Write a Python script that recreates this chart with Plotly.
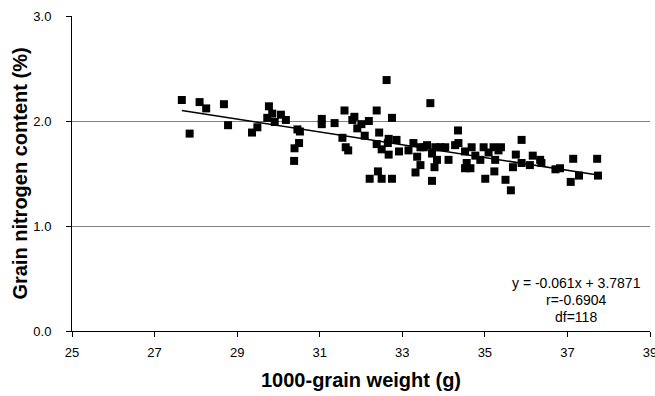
import plotly.graph_objects as go

# 1000-grain weight (g)
grain_weight = [
    27.66, 27.85, 28.09, 28.25, 28.68, 28.78,
    29.36, 29.49, 29.77, 29.73, 29.85, 29.91, 30.06, 30.18, 30.46, 30.39, 30.38, 30.50, 30.52,
    32.62, 31.60, 31.84, 31.79, 31.05, 31.05, 31.36, 32.38, 32.75, 32.19, 32.01, 31.91,
    31.55, 31.63, 31.69, 32.09, 32.44, 32.38, 32.50, 32.67, 32.67, 32.86, 32.92, 32.65,
    33.15, 33.27, 33.32, 33.36, 32.21, 32.41, 32.50, 32.75,
    33.44, 33.52, 33.60, 33.68, 33.72, 33.80, 33.84, 33.78, 33.72, 34.04, 34.12, 34.35,
    34.36, 34.52, 34.56, 34.52, 34.65, 34.68, 34.77, 34.89, 34.97, 35.01, 35.09, 35.21,
    35.33, 35.25, 35.23, 34.28, 33.44, 33.92,
    35.39, 35.50, 35.63, 35.68, 35.75, 35.89, 35.89, 36.09, 36.16, 36.34, 36.37, 36.71,
    36.82, 37.14, 37.08, 37.28, 37.72, 37.74,
]
# Grain nitrogen content (%)
nitrogen = [
    2.20, 1.88, 2.18, 2.12, 2.16, 1.96,
    1.89, 1.94, 2.14, 2.03, 2.07, 1.99, 2.06, 2.01, 1.92, 1.74, 1.62, 1.79, 1.90,
    2.39, 2.10, 2.04, 2.01, 2.02, 1.97, 1.98, 2.10, 2.03, 2.00, 1.97, 1.93,
    1.84, 1.75, 1.72, 1.86, 1.89, 1.78, 1.73, 1.83, 1.68, 1.82, 1.71, 1.79,
    1.72, 1.79, 1.51, 1.66, 1.45, 1.52, 1.45, 1.45,
    1.58, 1.75, 1.77, 2.17, 1.69, 1.75, 1.63, 1.56, 1.43, 1.75, 1.63, 1.91,
    1.79, 1.71, 1.60, 1.55, 1.55, 1.75, 1.67, 1.63, 1.75, 1.45, 1.70, 1.75,
    1.72, 1.63, 1.52, 1.77, 1.75, 1.75,
    1.75, 1.44, 1.34, 1.56, 1.68, 1.82, 1.60, 1.58, 1.67, 1.63, 1.60, 1.54,
    1.55, 1.64, 1.42, 1.48, 1.64, 1.48,
]

slope = -0.061
intercept = 3.7871
r_value = -0.6904
df_value = 118

x_ticks = [25, 27, 29, 31, 33, 35, 37, 39]
y_ticks = [0.0, 1.0, 2.0, 3.0]

FONT = "Liberation Sans, Arial, sans-serif"

fit_x = [min(grain_weight), max(grain_weight)]
fit_y = [slope * v + intercept for v in fit_x]

fig = go.Figure()
fig.add_trace(go.Scatter(
    x=grain_weight, y=nitrogen, mode="markers",
    marker=dict(symbol="square", size=8, color="black", line=dict(width=0)),
    showlegend=False, cliponaxis=False,
))
fig.add_trace(go.Scatter(
    x=fit_x, y=fit_y, mode="lines",
    line=dict(color="black", width=1.5), showlegend=False,
))

ann_font = dict(family=FONT, size=14, color="black")
lines = [f"y = {slope}x + {intercept}", f"r={r_value}", f"df={df_value}"]
ypos = [0.46, 0.295, 0.133]
for t, yy in zip(lines, ypos):
    fig.add_annotation(x=37.21, y=yy, xref="x", yref="y", text=t,
                       showarrow=False, font=ann_font, xanchor="center", yanchor="middle")

fig.update_layout(
    width=655, height=396,
    margin=dict(l=72, r=5, t=16, b=65),
    paper_bgcolor="white", plot_bgcolor="white",
    font=dict(family=FONT, size=13, color="black"),
)
fig.update_xaxes(
    range=[25, 39], tickvals=x_ticks, ticktext=[str(v) for v in x_ticks],
    showgrid=False, zeroline=False,
    showline=True, linecolor="black", linewidth=1,
    ticks="outside", ticklen=5, tickcolor="black",
    tickfont=dict(family=FONT, size=13, color="black"),
    ticklabelstandoff=4, ticklabeloverflow="allow",
    title=dict(text="<b>1000-grain weight (g)</b>", font=dict(family=FONT, size=20, color="black"), standoff=14),
    automargin=False,
)
fig.update_yaxes(
    range=[0, 3], tickvals=y_ticks, ticktext=[f"{v:.1f}" for v in y_ticks],
    showgrid=True, gridcolor="#808080", gridwidth=1, zeroline=False,
    showline=True, linecolor="black", linewidth=1,
    ticks="outside", ticklen=5, tickcolor="black",
    tickfont=dict(family=FONT, size=13, color="black"),
    ticklabelstandoff=12,
    title=dict(text="<b>Grain nitrogen content (%)</b>", font=dict(family=FONT, size=20, color="black"), standoff=0),
    automargin=False,
)

fig.write_html("out.html")
